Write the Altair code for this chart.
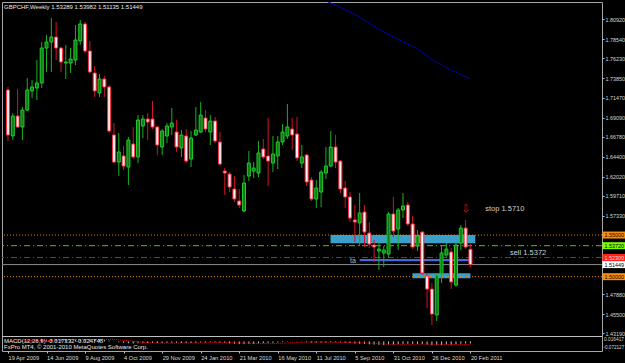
import altair as alt
import pandas as pd

FONT = "Liberation Sans"

# ---------------- weekly candles (GBPCHF) ----------------
week = list(range(97))
open_ = [1.7243, 1.6690, 1.6930, 1.6798, 1.7002, 1.7231, 1.7267, 1.7327, 1.7747, 1.7819,
         1.7879, 1.7747, 1.7567, 1.7567, 1.7603, 1.7831, 1.8036, 1.7711, 1.7447, 1.7207,
         1.7375, 1.7279, 1.6702, 1.6377, 1.6450, 1.6317, 1.6594, 1.6438, 1.6810, 1.6894,
         1.6894, 1.6798, 1.6558, 1.6690, 1.6798, 1.6738, 1.6546, 1.6690, 1.6413, 1.6702,
         1.6738, 1.6906, 1.6738, 1.6870, 1.6618, 1.6269, 1.6233, 1.6053, 1.5909, 1.5789,
         1.6209, 1.6269, 1.6245, 1.6534, 1.6450, 1.6365, 1.6450, 1.6618, 1.6690, 1.6774,
         1.6714, 1.6365, 1.6462, 1.6161, 1.5933, 1.6017, 1.6245, 1.6329, 1.6558, 1.6389,
         1.6065, 1.5957, 1.5681, 1.5645, 1.5777, 1.5524, 1.5380, 1.5308, 1.5284, 1.5272,
         1.5753, 1.5572, 1.5801, 1.5861, 1.5633, 1.5368, 1.5536, 1.5008, 1.4851, 1.4539,
         1.5032, 1.5260, 1.5296, 1.4900, 1.5404, 1.5584, 1.53289]
high_ = [1.7279, 1.6966, 1.7255, 1.7038, 1.7387, 1.7363, 1.7603, 1.7819, 1.7903, 1.8108,
         1.8060, 1.7759, 1.7783, 1.7747, 1.8024, 1.8084, 1.8060, 1.7831, 1.7531, 1.7435,
         1.7411, 1.7303, 1.6846, 1.6726, 1.6570, 1.6678, 1.6798, 1.6942, 1.6942, 1.6966,
         1.7110, 1.6810, 1.6774, 1.6846, 1.7026, 1.6882, 1.6762, 1.6774, 1.6750, 1.7038,
         1.7098, 1.7002, 1.6942, 1.6918, 1.6738, 1.6305, 1.6257, 1.6209, 1.6053, 1.6221,
         1.6510, 1.6377, 1.6630, 1.6654, 1.6906, 1.6690, 1.6690, 1.6834, 1.7074, 1.6906,
         1.6918, 1.6582, 1.6474, 1.6197, 1.6161, 1.6281, 1.6558, 1.6750, 1.6702, 1.6401,
         1.6149, 1.6017, 1.5861, 1.6005, 1.5861, 1.5657, 1.5440, 1.5416, 1.5368, 1.5777,
         1.5957, 1.5825, 1.6005, 1.5897, 1.5728, 1.5560, 1.5548, 1.5044, 1.4924, 1.5044,
         1.5380, 1.5404, 1.5344, 1.5404, 1.5620, 1.5681, 1.53982]
low_ = [1.6630, 1.6642, 1.6786, 1.6642, 1.6990, 1.7146, 1.7122, 1.7267, 1.7459, 1.7459,
        1.7603, 1.7459, 1.7375, 1.7447, 1.7543, 1.7783, 1.7687, 1.7447, 1.7158, 1.7158,
        1.7158, 1.6726, 1.6365, 1.6209, 1.6281, 1.6101, 1.6413, 1.6365, 1.6666, 1.6642,
        1.6774, 1.6462, 1.6462, 1.6606, 1.6702, 1.6498, 1.6438, 1.6365, 1.6317, 1.6690,
        1.6726, 1.6738, 1.6582, 1.6606, 1.6329, 1.5981, 1.6017, 1.5897, 1.5825, 1.5777,
        1.6149, 1.6185, 1.6197, 1.6413, 1.6089, 1.6257, 1.6293, 1.6582, 1.6654, 1.6522,
        1.6389, 1.6305, 1.6089, 1.5909, 1.5825, 1.5837, 1.6173, 1.6317, 1.6305, 1.6005,
        1.5825, 1.5657, 1.5416, 1.5368, 1.5356, 1.5344, 1.5176, 1.5080, 1.5116, 1.5224,
        1.5476, 1.5320, 1.5704, 1.5608, 1.5332, 1.5308, 1.5020, 1.4623, 1.4419, 1.4467,
        1.4924, 1.5224, 1.4851, 1.4876, 1.5320, 1.5332, 1.51135]
close_ = [1.6702, 1.6930, 1.6798, 1.7002, 1.7243, 1.7279, 1.7327, 1.7747, 1.7819, 1.7879,
          1.7747, 1.7579, 1.7579, 1.7615, 1.7843, 1.8036, 1.7711, 1.7459, 1.7231, 1.7375,
          1.7279, 1.6750, 1.6377, 1.6498, 1.6329, 1.6642, 1.6438, 1.6882, 1.6894, 1.6858,
          1.6798, 1.6582, 1.6750, 1.6810, 1.6846, 1.6558, 1.6702, 1.6389, 1.6666, 1.6762,
          1.6942, 1.6774, 1.6870, 1.6630, 1.6353, 1.6245, 1.6077, 1.5933, 1.5861, 1.6125,
          1.6365, 1.6305, 1.6486, 1.6438, 1.6389, 1.6474, 1.6618, 1.6738, 1.6798, 1.6702,
          1.6426, 1.6438, 1.6137, 1.5933, 1.6065, 1.6257, 1.6329, 1.6558, 1.6377, 1.6053,
          1.5957, 1.5704, 1.5657, 1.5765, 1.5536, 1.5392, 1.5356, 1.5332, 1.5320, 1.5753,
          1.5548, 1.5801, 1.5849, 1.5633, 1.5356, 1.5488, 1.5044, 1.4851, 1.4551, 1.5020,
          1.5284, 1.5332, 1.4936, 1.5380, 1.5584, 1.5356, 1.51449]

# x tick labels (every 8 weeks starting 19 Apr 2009)
tick_weeks = list(range(0, 97, 8))
tick_labels = ["19 Apr 2009", "14 Jun 2009", "9 Aug 2009", "4 Oct 2009", "29 Nov 2009",
               "24 Jan 2010", "21 Mar 2010", "16 May 2010", "11 Jul 2010", "5 Sep 2010",
               "31 Oct 2010", "26 Dec 2010", "20 Feb 2011"]

price_ticks = [1.8092, 1.7854, 1.7623, 1.7385, 1.7147, 1.6909, 1.6678, 1.6440, 1.6202,
               1.5971, 1.5733, 1.4788, 1.4550, 1.4319]

# horizontal levels
level_price = [1.5500, 1.5372, 1.5230, 1.5000]
level_color = ["#e08a00", "#5cc000", "#c81818", "#e08a00"]
level_dash = [[1, 2], [6, 3, 1, 3], [6, 3, 1, 3], [1, 2]]
close_level = 1.51449

# price labels on right edge
label_price = [1.5500, 1.5372, 1.5230, 1.51449, 1.5000]
label_fill = ["#ff8c00", "#7cfc00", "#ff2020", "#ffffff", "#ff8c00"]
label_ink = ["#000000", "#000000", "#ffd8d8", "#000000", "#000000"]

# zones (rectangles)
zone_w0 = [66.95, 83.95, 73.0]
zone_w1 = [97.0, 96.0, 95.7]
zone_lo = [1.5400, 1.4980, 1.5184]
zone_hi = [1.5500, 1.5040, 1.5212]
zone_col = ["#3a9fca", "#3a9fca", "#4466e0"]

# blue trend line
trend_week = [66.3, 68.8, 72.5, 77.0, 81.0, 84.8, 88.2, 91.9, 95.9]
trend_price = [1.8304, 1.8244, 1.8135, 1.7972, 1.7852, 1.7744, 1.7603, 1.7483, 1.7378]

# annotations
ann_text = ["stop 1.5710", "sell 1.5372", "ta"]
ann_week = [99.06, 104.2, 71.0]
ann_price = [1.5813, 1.5284, 1.5190]
ann_size = [7.5, 7.5, 7]
ann_col = ["#cfcfcf", "#cfcfcf", "#b8b8b8"]
arrow_week = [95.0]
arrow_price = [1.5813]

# ---------------- scales ----------------
xs = alt.Scale(domain=[-0.204, 122.27], nice=False, zero=False)
label_expr = "[" + ",".join(f"'{t}'" for t in tick_labels) + "][round(datum.value/8)]"
xaxis = alt.Axis(values=tick_weeks, labelExpr=label_expr, labelAlign="left", labelFontSize=5.7,
                 labelFont=FONT, labelColor="#d8d8d8", tickColor="#c0c0c0", tickSize=2,
                 labelPadding=1, domain=False, grid=False, labelFlush=False,
                 labelOverlap=False, title=None)
ys = alt.Scale(domain=[1.4287, 1.8300], range=[334, 0], nice=False, zero=False)
yaxis = alt.Axis(orient="right", values=price_ticks, format=".5f", labelFontSize=5.4, labelFont=FONT,
                 labelColor="#d8d8d8", tickColor="#c0c0c0", tickSize=2, labelPadding=1,
                 domain=False, grid=False, labelFlush=False, labelOverlap=False, title=None)
ms = alt.Scale(domain=[-0.0721, 0.0164], range=[348, 337.5], nice=False, zero=False, clamp=True)


def X(f):
    return alt.X(f"{f}:Q", scale=xs, axis=xaxis)


def Y(f, axis=None):
    return alt.Y(f"{f}:Q", scale=ys, axis=axis)


df = pd.DataFrame({"week": week, "open": open_, "high": high_, "low": low_, "close": close_})
up = df[df["close"] >= df["open"]]
dn = df[df["close"] < df["open"]]

layers = []

# zones
for a, b, lo, hi, c in zip(zone_w0, zone_w1, zone_lo, zone_hi, zone_col):
    zd = pd.DataFrame({"w0": [a], "w1": [b], "lo": [lo], "hi": [hi]})
    layers.append(alt.Chart(zd).mark_rect(color=c, opacity=1).encode(
        x=X("w0"), x2="w1:Q", y=Y("lo"), y2="hi:Q"))

# trend line
td = pd.DataFrame({"week": trend_week, "price": trend_price})
layers.append(alt.Chart(td).mark_line(color="#0000b0", strokeWidth=1).encode(x=X("week"), y=Y("price")))

# level lines
for p, c, d in zip(level_price, level_color, level_dash):
    ld = pd.DataFrame({"price": [p]})
    layers.append(alt.Chart(ld).mark_rule(color=c, strokeDash=d, strokeWidth=1).encode(y=Y("price")))
layers.append(alt.Chart(pd.DataFrame({"price": [close_level]})).mark_rule(
    color="#8c8c8c", strokeWidth=1).encode(y=Y("price")))

# candles
layers.append(alt.Chart(up).mark_rule(color="#14b41e", strokeWidth=1).encode(
    x=X("week"), y=Y("low", axis=yaxis), y2="high:Q"))
layers.append(alt.Chart(dn).mark_rule(color="#d0142a", strokeWidth=1).encode(
    x=X("week"), y=Y("low"), y2="high:Q"))
layers.append(alt.Chart(up).mark_bar(size=3, fill="#0f7a18", stroke="#22cc2a", strokeWidth=1).encode(
    x=X("week"), y=Y("open"), y2="close:Q"))
layers.append(alt.Chart(dn).mark_bar(size=3, fill="#fff0f0", stroke="#ff2a3a", strokeWidth=1).encode(
    x=X("week"), y=Y("open"), y2="close:Q"))

# annotations
for t, w, p, s, c in zip(ann_text, ann_week, ann_price, ann_size, ann_col):
    ad = pd.DataFrame({"week": [w], "price": [p]})
    layers.append(alt.Chart(ad).mark_text(text=t, align="left", baseline="middle", fontSize=s,
                                          font=FONT, color=c).encode(x=X("week"), y=Y("price")))
layers.append(alt.Chart(pd.DataFrame({"week": arrow_week, "price": arrow_price})).mark_text(
    text="⇩", align="center", baseline="middle", fontSize=10, font="DejaVu Sans",
    color="#e21a1a").encode(x=X("week"), y=Y("price")))

# title
dummy = pd.DataFrame({"a": [0]})
layers.append(alt.Chart(dummy).mark_text(
    text="GBPCHF,Weekly  1.53289 1.53982 1.51135 1.51449", align="left", baseline="middle",
    fontSize=6, font=FONT, color="#e8e8e8").encode(x=alt.value(2), y=alt.value(4.5)))

# right-edge price labels
for p, f, ink in zip(label_price, label_fill, label_ink):
    bd = pd.DataFrame({"price": [p], "txt": [f"{p:.5f}"]})
    layers.append(alt.Chart(bd).mark_tick(orient="horizontal", thickness=7, size=26, color=f,
                                          opacity=1).encode(x=alt.value(613.5), y=Y("price")))
    layers.append(alt.Chart(bd).mark_text(align="left", baseline="middle", fontSize=5.4, font=FONT,
                                          color=ink).encode(x=alt.value(602.5), y=Y("price"), text="txt:N"))

# MACD sub-window
s = pd.Series(close_)
macd = s.ewm(span=12, adjust=False).mean() - s.ewm(span=26, adjust=False).mean()
signal = macd.rolling(9, min_periods=1).mean()
mdf = pd.DataFrame({"week": week, "macd": macd, "signal": signal, "zero": 0.0})
layers.append(alt.Chart(mdf).mark_rule(color="#c8c8c8", strokeWidth=1).encode(
    x=X("week"), y=alt.Y("macd:Q", scale=ms, axis=None), y2="zero:Q"))
layers.append(alt.Chart(mdf).mark_line(color="#e01010", strokeDash=[1, 1], strokeWidth=1).encode(
    x=X("week"), y=alt.Y("signal:Q", scale=ms, axis=None)))
layers.append(alt.Chart(dummy).mark_text(
    text="MACD(12,26,9) -0.017332 -0.024748", align="left", baseline="middle", fontSize=6,
    font=FONT, color="#e8e8e8").encode(x=alt.value(2), y=alt.value(338.8)))
layers.append(alt.Chart(dummy).mark_text(
    text="FxPro MT4, © 2001-2010 MetaQuotes Software Corp.", align="left", baseline="middle",
    fontSize=6, font=FONT, color="#e8e8e8").encode(x=alt.value(2), y=alt.value(344.8)))
layers.append(alt.Chart(dummy).mark_text(
    text="0.016417", align="left", baseline="middle", fontSize=4.8, font=FONT,
    color="#d8d8d8").encode(x=alt.value(602), y=alt.value(338.3)))
layers.append(alt.Chart(dummy).mark_text(
    text="-0.072127", align="left", baseline="middle", fontSize=4.6, font=FONT,
    color="#d8d8d8").encode(x=alt.value(601.5), y=alt.value(345.8)))

# separator between panes
layers.append(alt.Chart(dummy).mark_rule(color="#c0c0c0", strokeWidth=1.2).encode(
    x=alt.value(0), x2=alt.value(600), y=alt.value(334.5)))

chart = alt.layer(*layers).resolve_scale(y="independent").properties(
    width=600, height=349,
    autosize=alt.AutoSizeParams(type="none"),
    padding={"left": 2, "top": 2, "right": 23, "bottom": 12},
).configure(background="#000000").configure_view(stroke="#a8a8a8", strokeWidth=1)

chart.save("out.html", embed_options={"renderer": "svg", "actions": False})
